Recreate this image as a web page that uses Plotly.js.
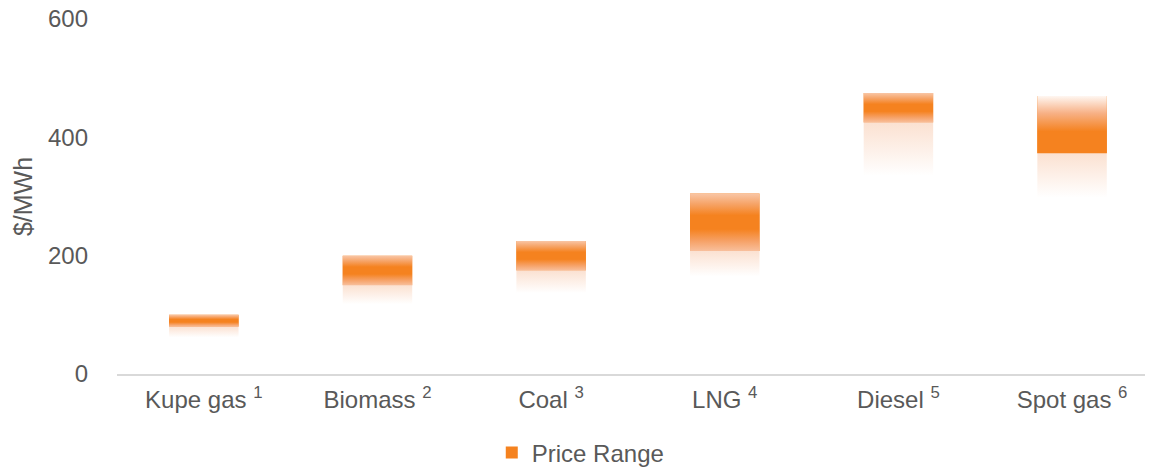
<!DOCTYPE html>
<html>
<head>
<meta charset="utf-8">
<script src="https://cdn.plot.ly/plotly-3.0.1.min.js"></script>
<style>
  html, body { margin: 0; padding: 0; background: #ffffff; }
  #chart { width: 1149px; height: 467px; }
</style>
</head>
<body>
<div id="chart"></div>
<script>
// Fuel cost ranges in $/MWh
const categories = ['Kupe gas', 'Biomass', 'Coal', 'LNG', 'Diesel', 'Spot gas'];
const footnotes  = ['1', '2', '3', '4', '5', '6'];
const fadeLow    = [62, 118, 137, 165, 335, 298];   // lower, faded part of each range
const rangeLow   = [80, 150, 175, 208, 425, 373];   // start of the main band
const rangeHigh  = [100, 200, 225, 305, 475, 470];  // top of the range

const BAR_W = 0.4;
const ORANGE = '#F5821F';

// vertical gradients (0 = bottom of the shape, 1 = top)
const bandScale = [
  [0, '#f8bf9c'], [0.18, '#f6a064'], [0.38, ORANGE],
  [0.62, ORANGE], [0.82, '#f6a468'], [1, '#f9c6a6']
];
const spotScale = [
  [0, ORANGE], [0.38, ORANGE], [0.7, '#f7b186'], [1, '#fff7f2']
];
const fadeScale = [[0, '#ffffff'], [1, '#fbe1d1']];

const xIdx = categories.map((c, i) => i);

// the price-range bars themselves
const traces = [{
  type: 'bar', name: 'Price Range',
  x: xIdx, base: rangeLow, y: rangeHigh.map((h, i) => h - rangeLow[i]),
  width: BAR_W, marker: { color: ORANGE, line: { width: 0 } },
  hoverinfo: 'skip', showlegend: true
}];

// gradient shading laid over each bar, plus the fading strip below it
function box(i, y0, y1) {
  const h = BAR_W / 2;
  return { x: [i - h, i + h, i + h, i - h, i - h], y: [y0, y0, y1, y1, y0] };
}
categories.forEach((c, i) => {
  const lower = box(i, fadeLow[i], rangeLow[i]);
  traces.push({
    type: 'scatter', mode: 'none', x: lower.x, y: lower.y,
    fill: 'toself', fillgradient: { type: 'vertical', colorscale: fadeScale },
    showlegend: false, hoverinfo: 'skip', name: c
  });
  const upper = box(i, rangeLow[i], rangeHigh[i]);
  traces.push({
    type: 'scatter', mode: 'none', x: upper.x, y: upper.y,
    fill: 'toself',
    fillgradient: { type: 'vertical', colorscale: c === 'Spot gas' ? spotScale : bandScale },
    showlegend: false, hoverinfo: 'skip', name: c
  });
});

const tickText = categories.map((c, i) => `${c} <sup>${footnotes[i]}</sup>`);
const font = { family: 'Liberation Sans, Arial, sans-serif', size: 24, color: '#595959' };

const layout = {
  width: 1149, height: 467,
  margin: { l: 117, r: 4, t: 19, b: 93 },
  paper_bgcolor: '#ffffff', plot_bgcolor: '#ffffff',
  font: font,
  showlegend: true,
  legend: {
    orientation: 'h', xref: 'container', yref: 'container',
    x: 0.428, xanchor: 'left', y: 0.03, yanchor: 'middle',
    font: font, itemwidth: 30
  },
  xaxis: {
    range: [-0.5, 5.42],
    tickmode: 'array', tickvals: xIdx, ticktext: tickText,
    showgrid: false, zeroline: false,
    showline: true, linecolor: '#d9d9d9', linewidth: 1.5,
    ticks: '', tickfont: font, ticklabelstandoff: 4, fixedrange: true
  },
  yaxis: {
    range: [0, 600], tickvals: [0, 200, 400, 600],
    showgrid: false, zeroline: false, showline: false, ticks: '',
    ticklabelstandoff: 28, tickfont: font,
    title: { text: '$/MWh', font: { family: 'Liberation Sans, Arial, sans-serif', size: 25, color: '#595959' }, standoff: 8 },
    fixedrange: true
  }
};

Plotly.newPlot('chart', traces, layout, { displayModeBar: false, staticPlot: true });
</script>
</body>
</html>
